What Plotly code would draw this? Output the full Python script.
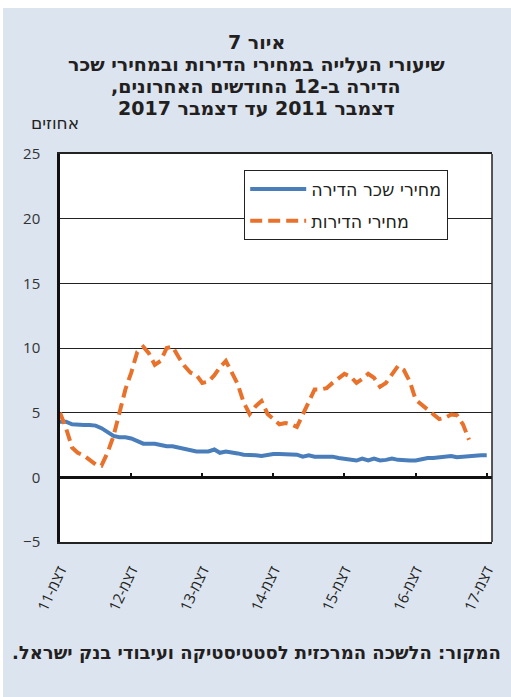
import plotly.graph_objects as go
import pandas as pd

RLE, PDF = "\u202b", "\u202c"

def rtl(s):
    return RLE + s + PDF

# ---- data ----
rent_series_name = "מחירי שכר הדירה"
house_series_name = "מחירי הדירות"

rent = [4.3, 4.3, 4.1, 4.05, 4.05, 4.05, 4.0, 3.8, 3.5, 3.2,
        3.1, 3.1, 3.0, 2.8, 2.6, 2.6, 2.6, 2.5, 2.4, 2.4,
        2.3, 2.2, 2.1, 2.0, 2.0, 2.0, 2.15, 1.9, 2.0, 1.95,
        1.85, 1.75, 1.75, 1.7, 1.65, 1.75, 1.8, 1.8, 1.8, 1.8,
        1.75, 1.6, 1.7, 1.6, 1.6, 1.6, 1.6, 1.5, 1.45, 1.4,
        1.3, 1.45, 1.3, 1.45, 1.3, 1.35, 1.45, 1.35, 1.3, 1.3,
        1.3, 1.4, 1.5, 1.5, 1.55, 1.65, 1.65, 1.55, 1.6, 1.65,
        1.7, 1.7, 1.7]

house = [5.0, 3.8, 2.3, 1.9, 1.7, 1.4, 1.0, 0.9, 1.9, 3.2,
         5.0, 6.8, 8.1, 9.7, 10.1, 9.6, 8.7, 9.0, 10.0, 10.1,
         9.3, 8.6, 8.1, 7.9, 7.3, 7.4, 7.9, 8.5, 9.0, 8.1,
         7.2, 5.8, 4.9, 5.5, 5.9, 4.9, 4.5, 4.1, 4.2, 4.1,
         3.9, 4.8, 5.9, 6.8, 6.8, 6.9, 7.3, 7.7, 8.0, 7.8,
         7.3, 7.6, 8.0, 7.7, 7.0, 7.3, 7.9, 8.6, 8.3, 7.4,
         6.0, 5.6, 5.2, 4.8, 4.5, 4.6, 4.85, 4.8, 4.1, 2.9]

start_month = "2011-12-01"
rent_months = pd.date_range(start_month, periods=len(rent), freq="MS")
house_months = pd.date_range(start_month, periods=len(house), freq="MS")

tick_dates = ["2011-12-01", "2012-12-01", "2013-12-01", "2014-12-01",
              "2015-12-01", "2016-12-01", "2017-12-01"]
tick_labels = ["דצמ-11", "דצמ-12", "דצמ-13", "דצמ-14",
               "דצמ-15", "דצמ-16", "דצמ-17"]
y_ticks = [-5, 0, 5, 10, 15, 20, 25]

title_lines = ["איור 7",
               "שיעורי העלייה במחירי הדירות ובמחירי שכר",
               "הדירה ב-12 החודשים האחרונים,",
               "דצמבר 2011 עד דצמבר 2017"]
y_unit = "אחוזים"
source_text = "המקור: הלשכה המרכזית לסטטיסטיקה ועיבודי בנק ישראל."

# ---- style ----
OX, OY = 3, 8            # page offset of the figure (body margin)
W, H = 508, 689
L, R, T, B = 57, 19, 146, 155
PW, PH = W - L - R, H - T - B
BG = "#DCE4F0"
TXT = "#231F20"
BLUE = "#4A7EBB"
ORANGE = "#E8722C"
HEB = "DejaVu Sans, Liberation Sans, sans-serif"
NUM = "Open Sans, DejaVu Sans, sans-serif"
x_range = ["2011-12-01", "2017-12-28"]

def px_x(sx):
    return (sx - OX - L) / PW

def px_y(sy):
    return (H - B - (sy - OY)) / PH

fig = go.Figure()
fig.add_trace(go.Scatter(
    x=rent_months, y=rent, mode="lines", name=rtl(rent_series_name),
    line=dict(color=BLUE, width=4), legendgroup="a", xaxis="x", yaxis="y"))
fig.add_trace(go.Scatter(
    x=house_months, y=house, mode="lines", name=rtl(house_series_name),
    line=dict(color=ORANGE, width=4, dash="12px,6px"), legendgroup="b",
    xaxis="x2", yaxis="y"))

title_y = [42.5, 64, 86, 107.5]
annotations = [
    dict(text=rtl(s), xref="paper", yref="paper", x=px_x(256), y=px_y(yy),
         xanchor="center", yanchor="middle", showarrow=False,
         font=dict(family=HEB, size=19, color=TXT, weight="bold"))
    for s, yy in zip(title_lines, title_y)
]
annotations += [
    dict(text=rtl(y_unit), xref="paper", yref="paper",
         x=px_x(81), y=px_y(123), xanchor="right", yanchor="middle",
         showarrow=False, font=dict(family=HEB, size=17, color=TXT)),
    dict(text=rtl(source_text), xref="paper", yref="paper",
         x=px_x(503), y=px_y(652), xanchor="right", yanchor="middle",
         showarrow=False, font=dict(family=HEB, size=18, color=TXT, weight="bold")),
]

fig.update_layout(
    width=W, height=H,
    margin=dict(l=L, r=R, t=T, b=B, pad=0, autoexpand=False),
    paper_bgcolor=BG, plot_bgcolor="white",
    font=dict(family=NUM, color=TXT, size=15),
    showlegend=True,
    legend=dict(
        x=px_x(244), y=px_y(170), xanchor="left", yanchor="top",
        bgcolor="white", bordercolor="#222", borderwidth=1.2,
        font=dict(family=HEB, size=17.5, color=TXT),
        traceorder="grouped", tracegroupgap=6, itemwidth=56,
    ),
    xaxis=dict(
        type="date", range=x_range, tickvals=tick_dates,
        ticktext=[rtl(t) for t in tick_labels], tickangle=-65,
        ticks="outside", ticklen=0, ticklabelstandoff=12,
        showgrid=False, zeroline=False,
        showline=True, linecolor="#222", linewidth=1.5, mirror=True,
        tickfont=dict(family=NUM, size=15, color=TXT),
    ),
    xaxis2=dict(
        type="date", range=x_range, tickvals=tick_dates,
        overlaying="x", anchor="free", position=5 / 30, side="bottom",
        showticklabels=False, ticks="inside", ticklen=4, tickwidth=1.5,
        tickcolor="#111", showgrid=False, zeroline=False,
        showline=True, linecolor="#111", linewidth=2.5,
    ),
    yaxis=dict(
        range=[-5, 25], tickvals=y_ticks, ticks="", ticklabelstandoff=14,
        showgrid=True, gridcolor="#222", gridwidth=1.3, zeroline=False,
        showline=True, linecolor="#111", linewidth=2.5,
        tickfont=dict(family=NUM, size=15, color="#333"),
    ),
    shapes=[
        dict(type="line", xref="paper", yref="paper", x0=1, x1=1, y0=0, y1=1,
             line=dict(color="#222", width=1.5), layer="above"),
    ],
    annotations=annotations,
)

fig.write_html(
    "out.html",
    post_script="document.body.style.margin='8px 0 0 3px';"
                "document.body.style.overflow='hidden';",
)
